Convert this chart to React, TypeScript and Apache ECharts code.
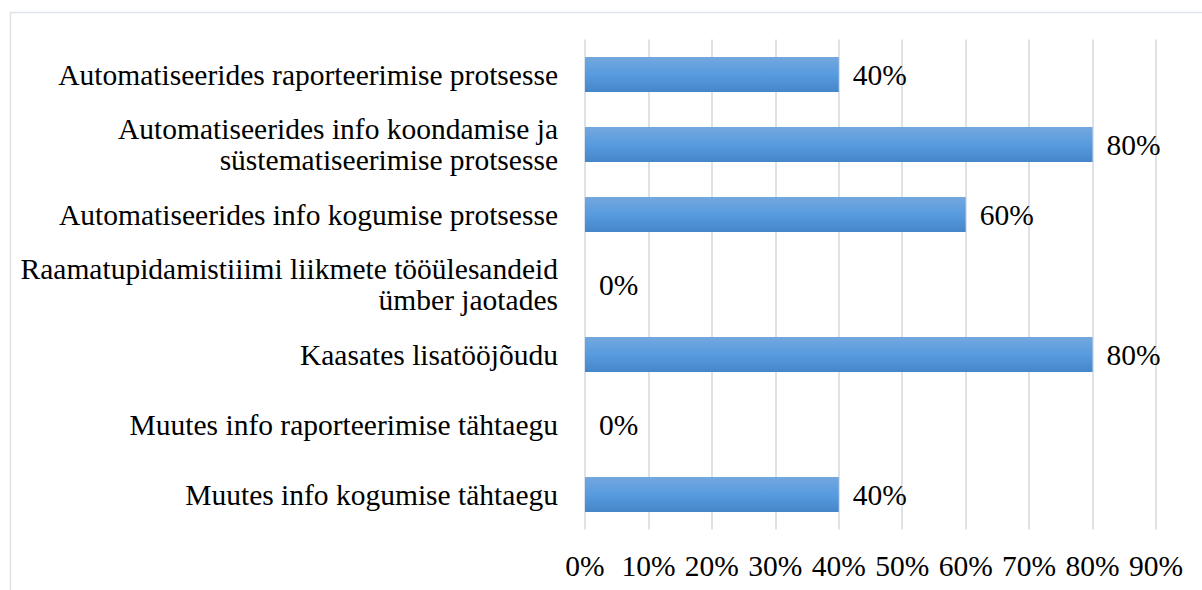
import React, { useEffect, useRef } from "react";
import * as echarts from "echarts";

const categories = [
  "Automatiseerides raporteerimise protsesse",
  "Automatiseerides info koondamise ja\nsüstematiseerimise protsesse",
  "Automatiseerides info kogumise protsesse",
  "Raamatupidamistiiimi liikmete tööülesandeid\nümber jaotades",
  "Kaasates lisatööjõudu",
  "Muutes info raporteerimise tähtaegu",
  "Muutes info kogumise tähtaegu",
];
const values = [40, 80, 60, 0, 80, 0, 40];
const axisMin = 0;
const axisMax = 90;
const axisInterval = 10;

const FONT = "Liberation Serif";
const FS = 29.5;

export default function App() {
  const ref = useRef<HTMLDivElement>(null);
  useEffect(() => {
    if (!ref.current) return;
    const chart = echarts.init(ref.current, undefined, { renderer: "svg" });
    chart.setOption({
      animation: false,
      backgroundColor: "#ffffff",
      textStyle: { fontFamily: FONT },
      graphic: [
        {
          type: "rect",
          left: 8,
          top: 10,
          shape: { x: 0, y: 0, width: 1400, height: 800 },
          style: { fill: "none", stroke: "#dde1e8", lineWidth: 1.5 },
          silent: true,
          z: -10,
        },
      ],
      grid: { left: 585, right: 46, top: 39.5, bottom: 60.5, containLabel: false },
      xAxis: {
        type: "value",
        min: axisMin,
        max: axisMax,
        interval: axisInterval,
        axisLine: { show: false },
        axisTick: { show: false },
        splitLine: { show: true, lineStyle: { color: "#dde1e8", width: 2 } },
        axisLabel: {
          formatter: "{value}%",
          color: "#000",
          fontFamily: FONT,
          fontSize: FS,
          margin: 21,
        },
      },
      yAxis: {
        type: "category",
        data: categories,
        inverse: true,
        axisLine: { show: false },
        axisTick: { show: false },
        axisLabel: {
          color: "#000",
          fontFamily: FONT,
          fontSize: FS,
          lineHeight: 31,
          margin: 27,
          align: "right",
        },
      },
      series: [
        {
          type: "bar",
          data: values,
          barWidth: "50%",
          itemStyle: {
            color: new echarts.graphic.LinearGradient(0, 0, 0, 1, [
              { offset: 0, color: "#74a8de" },
              { offset: 0.5, color: "#579be0" },
              { offset: 1, color: "#4586c8" },
            ]),
          },
          label: {
            show: true,
            position: "right",
            distance: 14,
            formatter: "{c}%",
            color: "#000",
            fontFamily: FONT,
            fontSize: FS,
          },
        },
      ],
    });
    return () => chart.dispose();
  }, []);
  return (
    <div
      ref={ref}
      style={{ position: "absolute", left: 0, top: 0, width: 1202, height: 590 }}
    />
  );
}
